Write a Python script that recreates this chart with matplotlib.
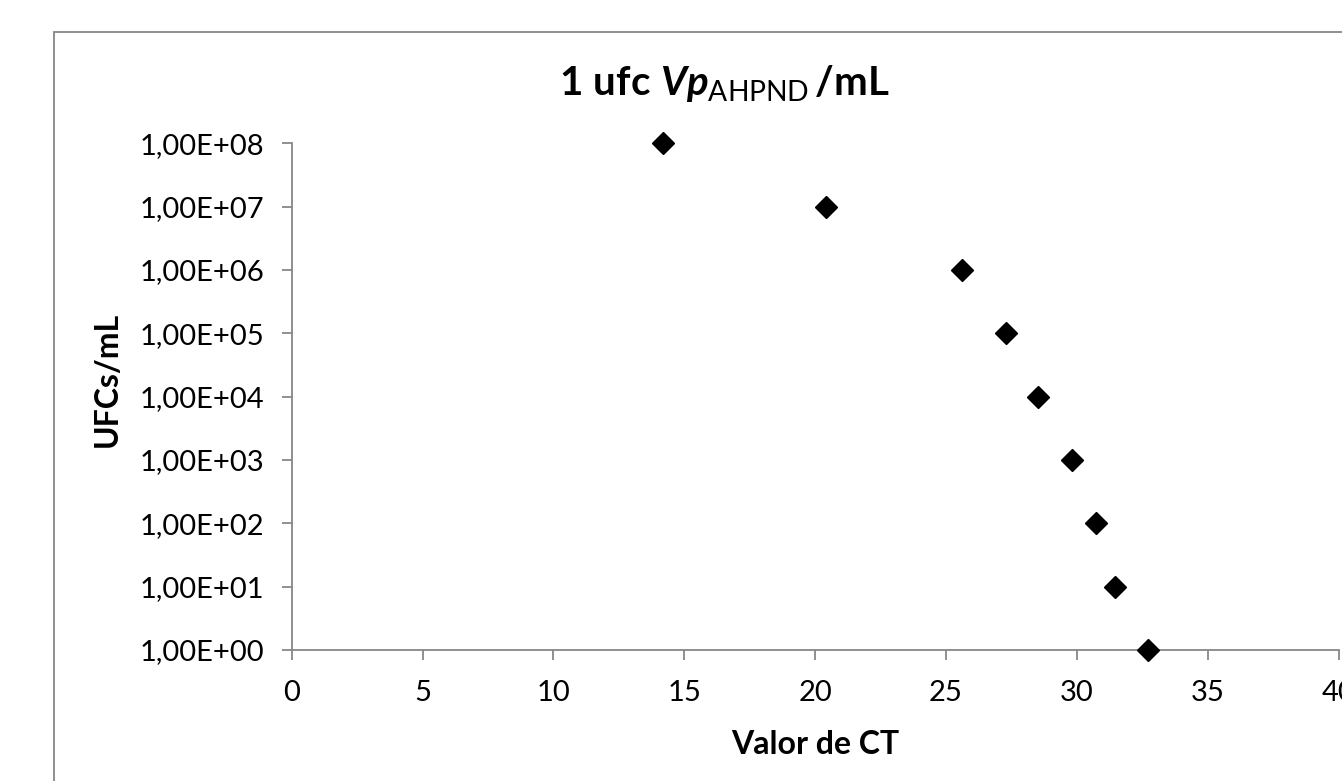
import matplotlib
matplotlib.use("Agg")
import matplotlib.pyplot as plt
from matplotlib.patches import Rectangle
from matplotlib.ticker import FixedLocator, FuncFormatter, NullLocator

# Data
ct_values = [14.20, 20.42, 25.60, 27.28, 28.53, 29.82, 30.72, 31.46, 32.71]
ufc_values = [1e8, 1e7, 1e6, 1e5, 1e4, 1e3, 1e2, 1e1, 1e0]
x_ticks = [0, 5, 10, 15, 20, 25, 30, 35, 40]
y_ticks = [1e0, 1e1, 1e2, 1e3, 1e4, 1e5, 1e6, 1e7, 1e8]

plt.rcParams['font.family'] = ['Lato', 'DejaVu Sans']
plt.rcParams['mathtext.fontset'] = 'custom'
plt.rcParams['mathtext.rm'] = 'Lato:bold'
plt.rcParams['mathtext.bf'] = 'Lato:bold'
plt.rcParams['mathtext.it'] = 'Lato:italic:bold'
plt.rcParams['mathtext.sf'] = 'Lato'

W, H = 1342, 781
fig = plt.figure(figsize=(W / 100, H / 100), dpi=100)
axis_col = '#878787'

# outer chart frame
fig.patches.append(Rectangle((54 / W, -0.2), 2, 1.2 - 32 / H, transform=fig.transFigure,
                             fill=False, edgecolor=axis_col, linewidth=1.3, clip_on=False))

left, right = 291.7 / W, 1338.5 / W
bottom, top = 1 - 650 / H, 1 - 143.3 / H
ax = fig.add_axes([left, bottom, right - left, top - bottom])
ax.set_facecolor('none')

ax.plot(ct_values, ufc_values, linestyle='none', marker='D', markersize=11.5,
        color='black', clip_on=False, zorder=5)

ax.set_yscale('log')
ax.set_xlim(0, 40)
ax.set_ylim(1e0, 1e8)
ax.xaxis.set_major_locator(FixedLocator(x_ticks))
ax.yaxis.set_major_locator(FixedLocator(y_ticks))
ax.yaxis.set_minor_locator(NullLocator())
ax.xaxis.set_minor_locator(NullLocator())

def sci_fmt(v, pos):
    import math
    e = int(round(math.log10(v)))
    return "1,00E+%02d" % e

ax.yaxis.set_major_formatter(FuncFormatter(sci_fmt))
ax.xaxis.set_major_formatter(FuncFormatter(lambda v, p: "%d" % v))

for s in ['top', 'right']:
    ax.spines[s].set_visible(False)
for s in ['left', 'bottom']:
    ax.spines[s].set_color(axis_col)
    ax.spines[s].set_linewidth(1.3)

ax.tick_params(axis='both', direction='out', length=7.5, width=1.3, color=axis_col,
               labelsize=21, labelcolor='black')
ax.tick_params(axis='x', pad=14)
ax.tick_params(axis='y', pad=12)

fig.text(724 / W, 1 - 95 / H, r"$\mathrm{1\ ufc\ }\mathit{Vp}_{\mathsf{AHPND}}\mathrm{\,/mL}$",
         ha='center', va='baseline', fontsize=29)
fig.text(815 / W, 1 - 745 / H, "Valor de CT", ha='center', va='center',
         fontsize=23, fontweight='bold')
fig.text(107 / W, 1 - 379 / H, "UFCs/mL", ha='center', va='center', rotation=90,
         fontsize=23, fontweight='bold')

fig.savefig("out.png", dpi=100)
